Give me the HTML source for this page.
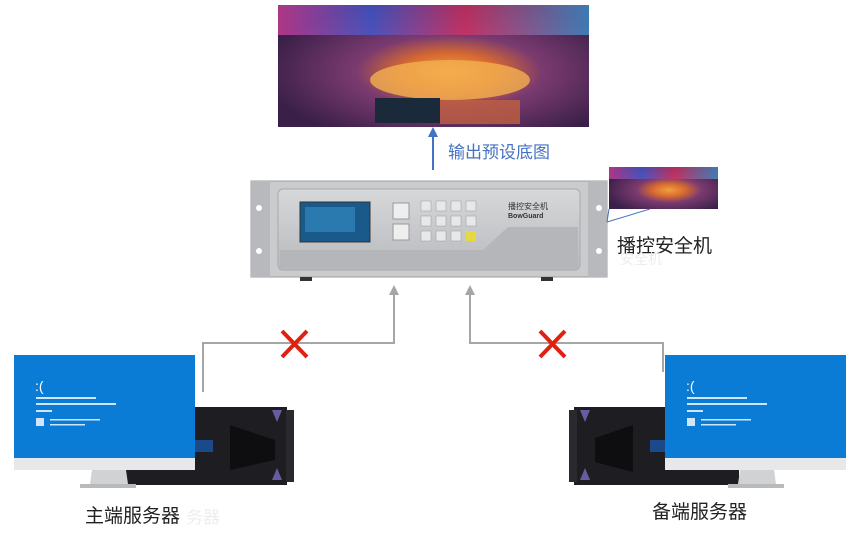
<!DOCTYPE html>
<html><head><meta charset="utf-8"><style>
html,body{margin:0;padding:0;background:#fff;width:864px;height:541px;overflow:hidden}
text{font-family:"Liberation Sans","Noto Sans CJK SC",sans-serif}
</style></head><body>
<svg width="864" height="541" viewBox="0 0 864 541" xmlns="http://www.w3.org/2000/svg">
<defs>
<radialGradient id="st" cx="0.55" cy="0.55" r="0.6">
<stop offset="0" stop-color="#f0a040"/><stop offset="0.25" stop-color="#d86a30"/><stop offset="0.5" stop-color="#7a3a70"/><stop offset="1" stop-color="#3a2048"/></radialGradient>
<linearGradient id="sk" x1="0" y1="0" x2="1" y2="0"><stop offset="0" stop-color="#e040a0"/><stop offset="0.3" stop-color="#4060e0"/><stop offset="0.6" stop-color="#e03060"/><stop offset="1" stop-color="#40a0e0"/></linearGradient>
<linearGradient id="dv" x1="0" y1="0" x2="0" y2="1"><stop offset="0" stop-color="#d6d8da"/><stop offset="1" stop-color="#b8babd"/></linearGradient>
</defs>
<!-- top image -->
<rect x="278" y="5" width="311" height="122" fill="url(#st)"/>
<rect x="278" y="5" width="311" height="30" fill="url(#sk)" opacity="0.7"/>
<ellipse cx="450" cy="80" rx="80" ry="20" fill="#f4b050" opacity="0.8"/>
<rect x="375" y="98" width="65" height="25" fill="#1a2a3a"/>
<rect x="440" y="100" width="80" height="24" fill="#c06040" opacity="0.8"/>
<!-- blue arrow -->
<line x1="433" y1="170" x2="433" y2="134" stroke="#4472c4" stroke-width="2"/>
<polygon points="433,127 428,137 438,137" fill="#4472c4"/>
<text x="448" y="158" font-size="17" fill="#4472c4">输出预设底图</text>
<!-- device -->
<rect x="251" y="181" width="356" height="96" fill="#c9cbcd" stroke="#9a9c9f"/>
<rect x="251" y="181" width="19" height="96" fill="#b7b9bc"/>
<rect x="588" y="181" width="19" height="96" fill="#b7b9bc"/>
<circle cx="259" cy="208" r="3" fill="#fff"/><circle cx="259" cy="251" r="3" fill="#fff"/>
<circle cx="599" cy="208" r="3" fill="#fff"/><circle cx="599" cy="251" r="3" fill="#fff"/>
<rect x="278" y="189" width="302" height="81" rx="5" fill="url(#dv)" stroke="#a8aaad"/>
<polygon points="280,250 483,250 508,227 578,227 578,268 280,268" fill="#b4b6b9"/>
<rect x="300" y="202" width="70" height="40" fill="#1a5a8a" stroke="#333"/>
<rect x="305" y="207" width="50" height="25" fill="#2a7ab0"/>
<rect x="393" y="203" width="16" height="16" fill="#eee" stroke="#999"/>
<rect x="393" y="224" width="16" height="16" fill="#eee" stroke="#999"/>
<g fill="#e8e8e8" stroke="#999" stroke-width="0.5">
<rect x="421" y="201" width="10" height="10"/><rect x="436" y="201" width="10" height="10"/><rect x="451" y="201" width="10" height="10"/><rect x="466" y="201" width="10" height="10"/>
<rect x="421" y="216" width="10" height="10"/><rect x="436" y="216" width="10" height="10"/><rect x="451" y="216" width="10" height="10"/><rect x="466" y="216" width="10" height="10"/>
<rect x="421" y="231" width="10" height="10"/><rect x="436" y="231" width="10" height="10"/><rect x="451" y="231" width="10" height="10"/></g>
<rect x="466" y="231" width="10" height="10" fill="#e6d840"/>
<text x="508" y="209" font-size="8" fill="#333">播控安全机</text>
<text x="508" y="218" font-size="7" font-weight="bold" fill="#333">BowGuard</text>
<rect x="300" y="277" width="12" height="4" fill="#333"/><rect x="541" y="277" width="12" height="4" fill="#333"/>
<!-- small image -->
<rect x="609" y="167" width="109" height="42" fill="url(#st)"/>
<rect x="609" y="167" width="109" height="12" fill="url(#sk)" opacity="0.7"/>
<line x1="609" y1="209" x2="607" y2="222" stroke="#4472c4"/>
<line x1="650" y1="209" x2="607" y2="222" stroke="#4472c4"/>
<text x="617" y="252" font-size="19" fill="#222">播控安全机</text>
<text x="620" y="264" font-size="14" fill="#ececec">安全机</text>
<!-- gray connectors -->
<g stroke="#a6a6a6" stroke-width="2" fill="none">
<polyline points="203,392 203,343 394,343 394,293"/>
<polyline points="470,293 470,343 663,343 663,372"/>
</g>
<polygon points="394,285 389,295 399,295" fill="#a6a6a6"/>
<polygon points="470,285 465,295 475,295" fill="#a6a6a6"/>
<g stroke="#e02010" stroke-width="4">
<line x1="282" y1="331" x2="307" y2="357"/><line x1="307" y1="331" x2="282" y2="357"/>
<line x1="540" y1="331" x2="565" y2="357"/><line x1="565" y1="331" x2="540" y2="357"/>
</g>
<!-- left server -->
<rect x="122" y="407" width="165" height="78" fill="#1e1e22"/>
<rect x="286" y="410" width="8" height="72" fill="#2a2a2e"/>
<polygon points="230,425 275,440 275,460 230,470" fill="#0e0e10"/>
<polygon points="272,410 282,410 277,422" fill="#6a5aa0"/><polygon points="272,480 282,480 277,468" fill="#6a5aa0"/>
<rect x="193" y="440" width="20" height="12" fill="#1a4a8a"/>
<!-- left monitor -->
<rect x="14" y="355" width="181" height="103" fill="#0a7cd6"/>
<rect x="14" y="458" width="181" height="12" fill="#e6e8ea"/>
<polygon points="92,470 126,470 128,484 90,484" fill="#d0d2d4"/>
<rect x="80" y="484" width="56" height="4" fill="#b8babc"/>
<text x="35" y="391" font-size="14" fill="#fff">:(</text>
<g fill="#cfe6fa"><rect x="36" y="397" width="60" height="2"/><rect x="36" y="403" width="80" height="2"/><rect x="36" y="410" width="16" height="2"/><rect x="36" y="418" width="8" height="8"/><rect x="50" y="419" width="50" height="1.5"/><rect x="50" y="424" width="35" height="1.5"/></g>
<!-- right server -->
<rect x="574" y="407" width="165" height="78" fill="#1e1e22"/>
<rect x="569" y="410" width="8" height="72" fill="#2a2a2e"/>
<polygon points="633,425 595,438 595,462 633,472" fill="#0e0e10"/>
<polygon points="580,410 590,410 585,422" fill="#6a5aa0"/><polygon points="580,480 590,480 585,468" fill="#6a5aa0"/>
<rect x="650" y="440" width="15" height="12" fill="#1a4a8a"/>
<!-- right monitor -->
<rect x="665" y="355" width="181" height="103" fill="#0a7cd6"/>
<rect x="665" y="458" width="181" height="12" fill="#e6e8ea"/>
<polygon points="740,470 774,470 776,484 738,484" fill="#d0d2d4"/>
<rect x="728" y="484" width="56" height="4" fill="#b8babc"/>
<text x="686" y="391" font-size="14" fill="#fff">:(</text>
<g fill="#cfe6fa"><rect x="687" y="397" width="60" height="2"/><rect x="687" y="403" width="80" height="2"/><rect x="687" y="410" width="16" height="2"/><rect x="687" y="418" width="8" height="8"/><rect x="701" y="419" width="50" height="1.5"/><rect x="701" y="424" width="35" height="1.5"/></g>
<!-- labels -->
<text x="186" y="523" font-size="17" fill="#ededed">务器</text>
<text x="85" y="522" font-size="19" fill="#222">主端服务器</text>
<text x="652" y="518" font-size="19" fill="#222">备端服务器</text>
</svg>
</body></html>
